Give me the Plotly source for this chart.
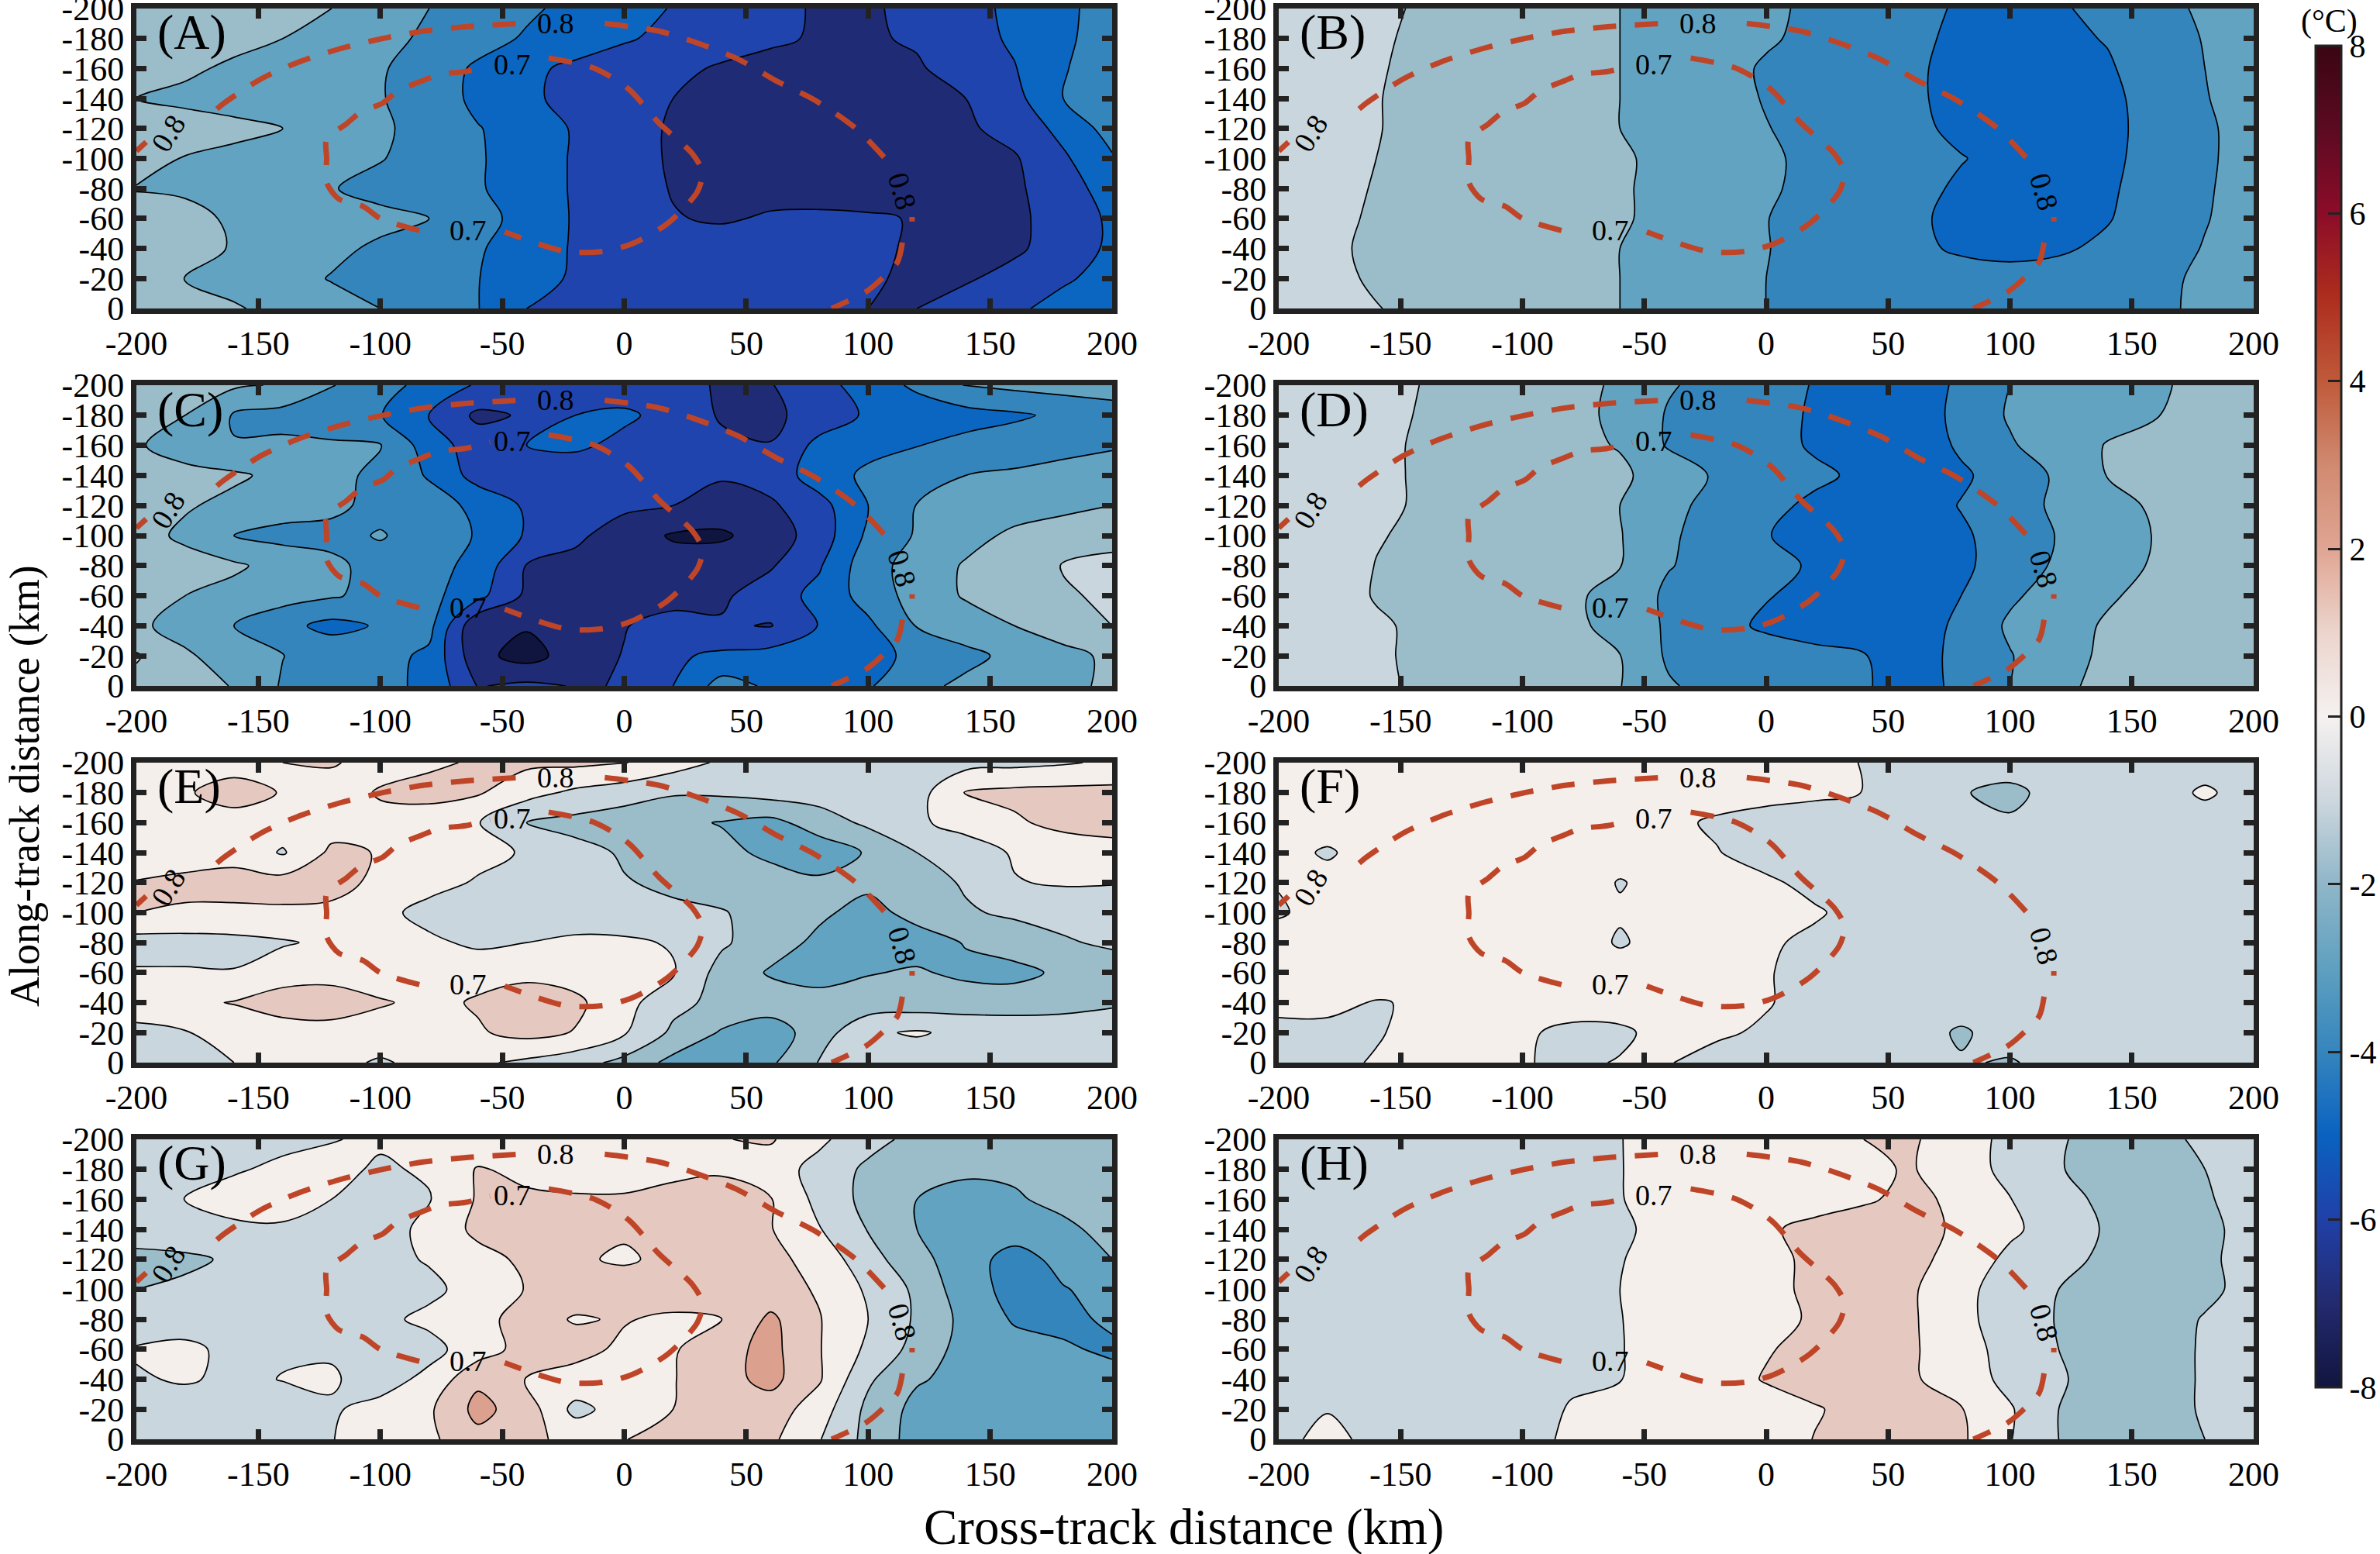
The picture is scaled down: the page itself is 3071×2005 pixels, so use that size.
import plotly.graph_objects as go

# Grid of the contour fields (km)
cross_track = [-200, -180, -160, -140, -120, -100, -80, -60, -40, -20, 0, 20, 40, 60, 80, 100, 120, 140, 160, 180, 200]
along_track = [-200, -180, -160, -140, -120, -100, -80, -60, -40, -20, 0]

# Temperature anomaly fields, one row per along-track distance
field_a = [
    [-1.0, -1.25, -1.5, -1.75, -2.0, -2.5, -3.0, -3.4, -3.85, -4.25, -4.65, -5.05, -5.4, -5.75, -6.1, -6.1, -5.8, -5.3, -4.8, -4.2, -3.6],
    [-1.2, -1.5, -1.75, -2.0, -2.4, -2.75, -3.15, -3.65, -4.1, -4.5, -4.9, -5.25, -5.6, -5.85, -6.1, -6.1, -5.9, -5.4, -4.85, -4.15, -3.6],
    [-1.6, -1.85, -2.15, -2.4, -2.65, -2.9, -3.5, -4.15, -4.8, -5.2, -5.5, -5.8, -6.1, -6.3, -6.4, -6.3, -6.1, -5.6, -5.05, -4.05, -3.6],
    [-2.0, -2.2, -2.4, -2.6, -2.75, -2.95, -3.4, -4.25, -4.85, -5.25, -5.6, -6.0, -6.3, -6.45, -6.5, -6.45, -6.25, -6.0, -5.3, -4.0, -3.5],
    [-1.5, -1.6, -1.75, -2.0, -2.4, -2.85, -3.35, -3.95, -4.45, -5.1, -5.65, -6.1, -6.3, -6.45, -6.5, -6.5, -6.35, -6.15, -5.65, -4.7, -3.6],
    [-1.6, -2.05, -2.25, -2.45, -2.7, -2.95, -3.4, -3.9, -4.5, -5.1, -5.65, -6.1, -6.3, -6.45, -6.55, -6.55, -6.45, -6.3, -6.1, -5.15, -4.1],
    [-2.05, -2.1, -2.2, -2.4, -2.95, -3.3, -3.6, -3.9, -4.5, -5.1, -5.6, -6.05, -6.25, -6.3, -6.35, -6.4, -6.4, -6.35, -6.15, -5.5, -4.5],
    [-1.6, -1.8, -2.1, -2.35, -2.55, -2.75, -3.0, -3.65, -4.35, -5.1, -5.55, -5.95, -6.1, -5.9, -5.85, -5.9, -6.05, -6.25, -6.15, -5.7, -4.8],
    [-1.5, -1.75, -2.05, -2.4, -2.8, -3.15, -3.5, -3.9, -4.5, -5.1, -5.25, -5.4, -5.55, -5.65, -5.75, -5.85, -6.1, -6.3, -6.15, -5.6, -4.8],
    [-1.7, -2.03, -2.35, -2.65, -3.05, -3.3, -3.6, -3.97, -4.7, -5.1, -5.2, -5.3, -5.45, -5.6, -5.75, -5.9, -6.15, -6.1, -5.7, -5.15, -4.6],
    [-1.4, -1.7, -1.9, -2.3, -2.65, -3.0, -3.5, -3.97, -5.0, -5.2, -5.35, -5.5, -5.6, -5.7, -5.85, -6.0, -6.0, -5.6, -5.2, -4.6, -4.0],
]
field_b = [
    [-0.55, -0.7, -0.85, -1.1, -1.3, -1.5, -1.75, -2.0, -2.3, -2.6, -2.85, -3.15, -3.45, -3.75, -4.1, -4.2, -4.1, -3.75, -3.3, -2.85, -2.5],
    [-0.55, -0.7, -0.9, -1.15, -1.35, -1.55, -1.8, -2.0, -2.3, -2.6, -2.9, -3.2, -3.5, -3.85, -4.15, -4.3, -4.2, -3.95, -3.45, -2.95, -2.55],
    [-0.55, -0.7, -0.95, -1.15, -1.4, -1.6, -1.8, -2.0, -2.35, -2.7, -3.1, -3.35, -3.6, -3.9, -4.2, -4.35, -4.3, -4.1, -3.55, -3.0, -2.55],
    [-0.55, -0.75, -0.97, -1.2, -1.4, -1.6, -1.8, -2.0, -2.35, -2.7, -3.05, -3.35, -3.6, -3.9, -4.2, -4.4, -4.35, -4.15, -3.75, -3.05, -2.55],
    [-0.5, -0.75, -0.97, -1.2, -1.4, -1.6, -1.8, -2.0, -2.3, -2.65, -2.97, -3.25, -3.55, -3.85, -4.15, -4.35, -4.35, -4.15, -3.8, -3.15, -2.6],
    [-0.5, -0.75, -1.0, -1.2, -1.35, -1.55, -1.75, -1.9, -2.2, -2.5, -2.9, -3.15, -3.4, -3.7, -3.97, -4.2, -4.3, -4.15, -3.75, -3.15, -2.6],
    [-0.5, -0.75, -1.05, -1.25, -1.45, -1.6, -1.75, -1.9, -2.25, -2.55, -2.9, -3.2, -3.5, -3.8, -4.1, -4.3, -4.3, -4.1, -3.7, -3.1, -2.6],
    [-0.55, -0.8, -1.1, -1.25, -1.45, -1.6, -1.75, -1.9, -2.25, -2.6, -2.98, -3.3, -3.55, -3.9, -4.15, -4.3, -4.25, -4.05, -3.6, -3.05, -2.6],
    [-0.6, -0.85, -1.15, -1.3, -1.45, -1.6, -1.8, -2.0, -2.3, -2.65, -2.97, -3.3, -3.55, -3.85, -4.1, -4.2, -4.1, -3.85, -3.4, -2.95, -2.55],
    [-0.55, -0.8, -1.1, -1.3, -1.5, -1.65, -1.8, -2.0, -2.3, -2.65, -3.0, -3.25, -3.45, -3.6, -3.7, -3.75, -3.7, -3.5, -3.2, -2.85, -2.5],
    [-0.5, -0.7, -0.97, -1.2, -1.4, -1.6, -1.8, -2.0, -2.35, -2.65, -3.0, -3.2, -3.4, -3.55, -3.65, -3.7, -3.65, -3.45, -3.15, -2.85, -2.5],
]
field_c = [
    [-1.5, -1.65, -1.85, -2.1, -2.95, -3.55, -4.4, -5.1, -5.3, -5.5, -5.65, -5.85, -6.05, -6.05, -5.35, -4.55, -3.8, -2.95, -2.75, -2.6, -2.5],
    [-1.6, -2.0, -3.1, -3.35, -3.65, -3.95, -5.05, -6.2, -5.9, -5.0, -4.8, -5.4, -6.1, -6.2, -5.6, -4.85, -4.6, -4.4, -4.15, -3.8, -3.5],
    [-1.85, -2.6, -2.95, -2.8, -2.85, -2.95, -4.5, -5.5, -5.0, -4.8, -5.3, -5.6, -5.8, -5.97, -4.7, -4.3, -4.03, -3.7, -3.5, -3.35, -3.15],
    [-1.4, -1.6, -1.85, -2.25, -2.7, -3.25, -4.1, -5.4, -5.6, -5.7, -5.75, -5.8, -5.9, -5.6, -4.5, -3.8, -3.4, -3.0, -2.85, -2.6, -2.3],
    [-1.6, -1.9, -2.25, -2.55, -2.85, -3.2, -3.55, -4.25, -5.15, -5.6, -5.8, -6.0, -6.4, -6.15, -5.35, -4.0, -2.97, -2.65, -2.45, -2.25, -2.0],
    [-1.6, -2.2, -3.0, -3.3, -3.2, -2.95, -3.3, -4.1, -5.1, -5.8, -6.5, -7.1, -7.15, -6.5, -5.55, -3.8, -2.9, -2.35, -1.8, -1.5, -1.25],
    [-1.4, -1.6, -1.85, -2.35, -2.85, -3.25, -3.65, -4.3, -6.05, -6.3, -6.45, -6.6, -6.4, -6.1, -5.1, -3.4, -2.6, -1.9, -1.45, -0.95, -0.8],
    [-1.6, -2.0, -2.3, -2.6, -2.9, -3.3, -3.7, -4.7, -6.2, -6.35, -6.45, -6.4, -6.15, -5.5, -4.7, -3.6, -2.6, -1.9, -1.45, -1.1, -0.85],
    [-1.8, -2.4, -3.0, -3.7, -4.3, -3.9, -3.7, -6.9, -6.9, -6.5, -6.05, -5.6, -5.9, -6.05, -4.95, -4.2, -2.95, -2.5, -2.0, -1.5, -1.0],
    [-0.9, -1.85, -2.5, -2.98, -3.3, -3.65, -4.2, -6.7, -7.4, -6.5, -5.95, -5.15, -4.8, -4.6, -4.45, -4.2, -3.85, -3.25, -2.75, -2.3, -1.8],
    [-1.3, -1.6, -2.05, -3.1, -3.4, -3.75, -4.2, -6.05, -5.8, -6.05, -5.97, -5.0, -3.6, -4.15, -4.4, -4.1, -3.25, -2.8, -2.5, -2.2, -1.85],
]
field_d = [
    [-0.55, -0.7, -0.85, -1.02, -1.3, -1.55, -1.8, -2.1, -2.9, -3.35, -3.65, -4.05, -4.4, -4.6, -3.8, -3.0, -2.75, -2.4, -2.1, -1.8, -1.6],
    [-0.5, -0.7, -0.85, -1.05, -1.3, -1.55, -1.8, -2.15, -3.1, -3.4, -3.7, -4.1, -4.4, -4.6, -3.7, -2.9, -2.6, -2.3, -2.03, -1.75, -1.55],
    [-0.5, -0.65, -0.85, -1.1, -1.35, -1.6, -1.8, -2.05, -3.1, -3.35, -3.7, -4.1, -4.4, -4.6, -3.85, -3.1, -2.5, -1.95, -1.7, -1.6, -1.55],
    [-0.5, -0.65, -0.85, -1.1, -1.3, -1.5, -1.75, -1.85, -2.4, -3.15, -3.5, -3.85, -4.15, -4.35, -4.15, -3.55, -2.85, -1.97, -1.7, -1.6, -1.55],
    [-0.5, -0.65, -0.85, -1.1, -1.3, -1.55, -1.75, -2.0, -2.75, -3.3, -3.8, -4.15, -4.4, -4.5, -3.95, -3.35, -2.85, -2.35, -1.85, -1.6, -1.5],
    [-0.4, -0.6, -0.95, -1.15, -1.4, -1.6, -1.8, -1.95, -2.85, -3.45, -3.97, -4.25, -4.45, -4.5, -4.15, -3.55, -2.95, -2.45, -1.95, -1.6, -1.45],
    [-0.4, -0.6, -1.02, -1.2, -1.4, -1.6, -1.8, -1.97, -2.95, -3.35, -3.75, -4.1, -4.4, -4.55, -4.2, -3.5, -2.85, -2.35, -1.9, -1.6, -1.45],
    [-0.45, -0.65, -1.05, -1.25, -1.45, -1.65, -1.85, -2.3, -3.2, -3.55, -3.95, -4.25, -4.5, -4.6, -4.0, -3.15, -2.6, -2.1, -1.75, -1.55, -1.45],
    [-0.55, -0.7, -0.9, -1.15, -1.4, -1.6, -1.8, -2.3, -3.15, -3.7, -4.15, -4.4, -4.6, -4.6, -3.75, -2.85, -2.35, -1.9, -1.65, -1.5, -1.4],
    [-0.6, -0.75, -0.9, -1.15, -1.4, -1.6, -1.8, -1.98, -3.15, -3.35, -3.55, -3.75, -3.95, -4.4, -3.75, -3.05, -2.4, -1.8, -1.6, -1.5, -1.4],
    [-0.55, -0.7, -0.9, -1.1, -1.4, -1.6, -1.8, -1.97, -2.9, -3.35, -3.55, -3.7, -3.9, -4.45, -3.75, -3.0, -2.2, -1.75, -1.6, -1.5, -1.4],
]
field_e = [
    [0.3, 0.5, 0.8, 1.0, 1.1, 0.6, 0.85, 1.1, 1.2, 1.2, 1.05, 0.45, -0.15, -0.45, -0.5, -0.5, -0.45, -0.35, -0.25, -0.1, 0.15],
    [0.6, 0.95, 1.2, 0.97, 0.5, 1.1, 1.3, 1.1, 0.35, -0.2, -0.55, -0.9, -0.85, -0.6, -0.55, -0.5, -0.4, 1.05, 1.25, 1.3, 1.3],
    [0.7, 0.95, 0.8, 0.5, 0.55, 0.7, 0.5, 0.05, -1.0, -1.3, -1.55, -1.8, -2.05, -2.3, -1.5, -0.8, -0.15, 0.35, 0.85, 1.3, 1.4],
    [0.45, 0.6, 0.7, -0.1, 1.2, 0.95, 0.55, 0.3, -0.1, -0.7, -1.1, -1.4, -1.75, -2.2, -2.6, -1.9, -1.0, -0.5, 0.1, 0.35, 0.6],
    [1.05, 1.2, 1.3, 1.4, 1.3, 0.8, 0.35, -0.1, -0.4, -0.7, -0.95, -1.15, -1.35, -1.6, -1.8, -1.8, -1.4, -0.9, -0.05, 0.1, 0.05],
    [1.0, 0.9, 0.85, 0.85, 0.8, 0.3, -0.35, -0.5, -0.6, -0.7, -0.75, -0.85, -0.95, -1.3, -1.85, -2.3, -1.7, -1.1, -0.85, -0.7, -0.6],
    [-0.4, -0.4, -0.3, -0.1, 0.2, 0.3, 0.2, -0.2, 0.0, 0.25, 0.2, -0.1, -0.85, -1.6, -2.2, -2.5, -2.4, -1.95, -1.5, -1.1, -0.85],
    [0.1, 0.1, 0.05, 0.6, 0.7, 0.4, 0.5, 0.7, 0.8, 0.6, 0.4, 0.1, -1.4, -2.1, -2.4, -2.05, -1.9, -2.2, -2.3, -1.8, -1.5],
    [0.6, 0.8, 1.05, 1.4, 1.4, 1.1, 0.75, 1.1, 1.4, 1.2, 0.35, -0.7, -1.3, -1.5, -1.6, -1.6, -1.55, -1.5, -1.45, -1.3, -1.1],
    [-0.3, -0.05, 0.3, 0.6, 0.7, 0.5, 0.7, 0.9, 1.3, 0.95, 0.1, -1.2, -2.1, -2.5, -1.5, -0.15, 0.1, -0.25, -0.4, -0.5, -0.55],
    [-0.7, -0.4, 0.0, 0.25, 0.25, -0.1, 0.25, 0.15, -0.2, -0.6, -1.3, -2.3, -2.45, -2.15, -0.95, -0.6, -0.6, -0.7, -0.7, -0.7, -0.7],
]
field_f = [
    [0.4, 0.4, 0.4, 0.4, 0.4, 0.4, 0.4, 0.4, 0.35, 0.3, 0.25, 0.15, -0.02, -0.3, -0.5, -0.6, -0.5, -0.4, -0.35, -0.3, -0.3],
    [0.45, 0.45, 0.5, 0.5, 0.5, 0.5, 0.45, 0.4, 0.35, 0.3, 0.25, 0.15, -0.01, -0.5, -0.95, -1.2, -0.7, -0.4, -0.3, 0.1, -0.3],
    [0.4, 0.4, 0.45, 0.5, 0.5, 0.5, 0.45, 0.35, 0.15, -0.1, -0.3, -0.4, -0.5, -0.6, -0.7, -0.9, -0.6, -0.4, -0.35, -0.3, -0.3],
    [0.3, -0.1, 0.4, 0.5, 0.5, 0.5, 0.45, 0.35, 0.2, 0.03, -0.3, -0.4, -0.5, -0.55, -0.55, -0.55, -0.5, -0.45, -0.4, -0.35, -0.3],
    [0.05, 0.3, 0.45, 0.5, 0.5, 0.5, 0.45, -0.05, 0.3, 0.25, 0.12, -0.2, -0.4, -0.5, -0.5, -0.5, -0.45, -0.4, -0.4, -0.35, -0.3],
    [-0.1, 0.35, 0.5, 0.55, 0.55, 0.55, 0.5, 0.1, 0.4, 0.35, 0.25, 0.08, -0.25, -0.4, -0.45, -0.45, -0.4, -0.4, -0.35, -0.35, -0.3],
    [0.4, 0.4, 0.5, 0.55, 0.55, 0.55, 0.5, -0.1, 0.4, 0.3, 0.1, -0.15, -0.3, -0.4, -0.4, -0.4, -0.4, -0.4, -0.35, -0.3, -0.3],
    [0.45, 0.5, 0.5, 0.55, 0.55, 0.55, 0.5, 0.45, 0.3, 0.15, 0.03, -0.15, -0.3, -0.35, -0.4, -0.4, -0.4, -0.4, -0.35, -0.3, -0.3],
    [0.3, 0.2, -0.05, 0.1, 0.4, 0.45, 0.5, 0.4, 0.3, 0.2, 0.05, -0.25, -0.35, -0.4, -0.45, -0.45, -0.4, -0.4, -0.35, -0.35, -0.3],
    [-0.3, -0.2, -0.05, 0.2, 0.4, 0.15, -0.25, -0.15, 0.3, 0.1, -0.1, -0.3, -0.4, -0.5, -1.15, -0.5, -0.4, -0.4, -0.35, -0.3, -0.3],
    [-0.4, -0.15, 0.05, 0.3, 0.3, 0.05, -0.15, 0.05, 0.03, -0.25, -0.35, -0.4, -0.5, -0.6, -0.9, -1.1, -0.6, -0.4, -0.35, -0.3, -0.3],
]
field_g = [
    [-0.5, -0.45, -0.4, -0.25, -0.03, 0.1, 0.2, 0.3, 0.4, 0.5, 0.6, 0.8, 0.97, 1.1, 0.2, -0.65, -1.3, -1.4, -1.45, -1.5, -1.5],
    [-0.5, -0.3, -0.1, 0.2, 0.2, -0.1, 0.1, 1.1, 0.7, 0.6, 0.6, 0.7, 0.85, 0.5, -0.35, -1.2, -1.4, -1.85, -1.85, -1.6, -1.5],
    [-0.2, 0.02, 0.4, 0.3, 0.0, -0.4, -0.05, 1.1, 1.2, 1.1, 1.1, 1.4, 1.5, 1.05, -0.3, -1.3, -2.0, -2.3, -2.1, -1.75, -1.6],
    [-0.3, -0.3, -0.2, -0.1, -0.2, -0.4, 0.25, 1.25, 1.4, 1.1, 1.1, 1.2, 1.4, 1.05, 0.05, -1.05, -2.0, -2.3, -2.5, -2.2, -1.7],
    [-1.4, -1.2, -0.85, -0.7, -0.5, -0.25, 0.07, 0.65, 1.2, 1.1, 0.9, 1.2, 1.5, 1.3, 0.6, -0.6, -1.7, -2.55, -3.4, -2.7, -2.0],
    [-1.0, -0.8, -0.7, -0.6, -0.5, -0.3, -0.2, 0.35, 1.05, 1.3, 1.4, 1.5, 1.5, 1.4, 0.9, -0.15, -1.2, -2.6, -3.3, -3.05, -2.7],
    [-0.7, -0.65, -0.6, -0.5, -0.4, -0.2, 0.2, 0.8, 1.25, 0.95, 1.05, 0.85, 1.0, 2.2, 1.05, 0.0, -1.15, -2.3, -3.1, -3.3, -2.8],
    [0.1, 0.3, -0.35, -0.1, -0.1, -0.35, -0.3, 0.5, 1.4, 1.25, 0.85, 0.9, 1.65, 2.3, 1.05, -0.2, -1.35, -2.4, -2.65, -2.85, -3.2],
    [-0.1, 0.1, -0.2, 0.03, 0.1, -0.4, 0.25, 1.8, 0.97, 0.7, 0.6, 0.95, 1.65, 2.3, 1.1, -0.85, -1.9, -2.3, -2.45, -2.55, -2.6],
    [-0.5, -0.5, -0.45, -0.4, -0.1, 0.3, 0.85, 2.3, 1.5, -0.3, 0.45, 1.0, 1.4, 1.5, 0.5, -1.25, -2.3, -2.5, -2.6, -2.6, -2.6],
    [-0.55, -0.5, -0.4, -0.3, -0.02, 0.3, 0.8, 1.7, 1.2, 0.75, 0.98, 1.25, 1.4, 1.2, 0.05, -1.3, -2.4, -2.5, -2.55, -2.6, -2.6],
]
field_h = [
    [-0.6, -0.55, -0.5, -0.45, -0.35, -0.2, -0.1, -0.02, 0.3, 0.5, 0.65, 0.8, 1.0, 1.1, 0.5, -0.3, -0.95, -1.2, -1.15, -0.9, -0.7],
    [-0.6, -0.55, -0.5, -0.45, -0.35, -0.2, -0.1, -0.02, 0.25, 0.45, 0.6, 0.7, 0.9, 1.05, 0.5, -0.3, -0.97, -1.2, -1.15, -1.0, -0.7],
    [-0.6, -0.55, -0.5, -0.45, -0.35, -0.2, -0.1, -0.03, 0.3, 0.45, 0.55, 0.7, 0.9, 1.2, 0.8, 0.03, -0.7, -1.2, -1.2, -1.05, -0.8],
    [-0.6, -0.55, -0.5, -0.45, -0.35, -0.25, -0.15, -0.1, 0.2, 0.5, 0.9, 1.2, 1.4, 1.4, 0.8, 0.2, -0.5, -1.1, -1.2, -1.1, -0.85],
    [-0.6, -0.55, -0.5, -0.45, -0.35, -0.25, -0.15, -0.03, 0.25, 0.5, 0.8, 1.15, 1.3, 1.25, 0.65, -0.25, -0.85, -1.1, -1.2, -1.1, -0.8],
    [-0.6, -0.55, -0.5, -0.45, -0.35, -0.2, -0.1, 0.0, 0.3, 0.55, 0.8, 1.15, 1.3, 1.1, 0.3, -0.5, -1.0, -1.15, -1.2, -1.1, -0.85],
    [-0.6, -0.55, -0.5, -0.45, -0.35, -0.2, -0.1, -0.02, 0.3, 0.55, 0.75, 1.1, 1.25, 1.1, 0.3, -0.55, -1.05, -1.2, -1.2, -0.97, -0.75],
    [-0.6, -0.55, -0.5, -0.45, -0.35, -0.2, -0.1, -0.03, 0.3, 0.6, 0.95, 1.2, 1.3, 1.1, 0.45, -0.4, -1.0, -1.2, -1.2, -0.95, -0.75],
    [-0.6, -0.55, -0.5, -0.45, -0.35, -0.2, -0.1, -0.02, 0.35, 0.7, 1.05, 1.25, 1.3, 1.1, 0.55, -0.3, -0.95, -1.2, -1.2, -0.95, -0.75],
    [-0.6, -0.05, -0.5, -0.45, -0.4, -0.3, 0.05, 0.2, 0.35, 0.5, 0.7, 0.95, 1.2, 1.35, 1.05, 0.1, -1.0, -1.2, -1.2, -0.95, -0.75],
    [-0.3, 0.3, -0.3, -0.45, -0.4, -0.2, 0.1, 0.1, 0.3, 0.5, 0.7, 1.02, 1.3, 1.4, 1.15, 0.05, -1.0, -1.2, -1.2, -1.0, -0.75],
]
panel_fields = [field_a, field_b, field_c, field_d, field_e, field_f, field_g, field_h]
panel_letters = ["(A)", "(B)", "(C)", "(D)", "(E)", "(F)", "(G)", "(H)"]

# Dashed contours shared by every panel, None where a label breaks them
curve_08_x = [-200, -196, None, -167, -164, -149, -134, -117, -99, -82, -64, -43, None, -8, 14, 30, 47, 62, 78, 95, 107, None, 118, 118, None, 114, 112, 105, 99, 85]
curve_08_y = [-105, -111, None, -133, -137, -153, -164, -173, -180, -185, -188, -190, None, -190, -185, -177, -166, -152, -139, -120, -100, None, -61, -58, None, -44, -31, -19, -11, 0]
curve_07_x = [-31, -12, 2, 14, 28, 32, 30, 18, 3, -9, -24, -49, None, -84, -100, -107, -117, -122, -122, -122, -114, -108, -99, -93, -84, -76, -65, -55]
curve_07_y = [-167, -160, -146, -124, -103, -91, -78, -57, -43, -38, -38, -51, None, -52, -60, -68, -73, -84, -100, -113, -123, -131, -137, -145, -151, -156, -158, -162]
curve_labels = ["0.8", "0.8", "0.7", "0.7", "0.8"]
label_x = [-187, -28, -46, -64, 114]
label_y = [-117, -190, -163, -52, -78]
label_angle = [-58, 0, 0, 0, 74]

# Axis ticks
x_ticks = [-200, -150, -100, -50, 0, 50, 100, 150, 200]
y_ticks = [-200, -180, -160, -140, -120, -100, -80, -60, -40, -20, 0]
bar_ticks = [-8, -6, -4, -2, 0, 2, 4, 6, 8]

# Filled band colours from -8 upward, one per degree
band_colors = ["#101540", "#1f2b75", "#1f44ad", "#0a66c0", "#3585bd", "#63a3c2", "#9bbcc9", "#c9d6dd",
               "#f5efec", "#e5c8bf", "#dba08e", "#c87a5e", "#bf5a3a", "#ad2d1e", "#8c0c28", "#5c0a22"]
bar_levels = [-8, -7, -6, -5, -4, -3, -2, -1, 0, 1, 2, 3, 4, 5, 6, 7, 8]
bar_colors = ["#11153f", "#232a6e", "#2040a8", "#0a62c0", "#3585bd", "#5fa0c0", "#8fb6c8", "#cdd7de",
              "#f5f1f0", "#ecd5cd", "#e0a593", "#d08a70", "#bf5a3a", "#ad2d1e", "#8c0c28", "#5c0a22", "#3a0512"]

WIDTH = 3071
HEIGHT = 2005
SERIF = "Liberation Serif"
FRAME = "#222222"
LINE_RED = "#bf4528"

# Plot areas in page pixels
col_left = [176, 1650]
col_right = [1435, 2908]
row_top = [11, 497, 984, 1470]
row_bottom = [398, 885, 1371, 1857]

stepped = []
for i, c in enumerate(band_colors):
    stepped.append([i / 16, c])
    stepped.append([(i + 1) / 16, c])

fig = go.Figure()
annotations = []
layout_axes = {}

for n, field in enumerate(panel_fields):
    col = n % 2
    row = n // 2
    suffix = "" if n == 0 else str(n + 1)
    xname = "x" + suffix
    yname = "y" + suffix

    fig.add_trace(go.Contour(
        x=cross_track, y=along_track, z=field, xaxis=xname, yaxis=yname,
        zmin=-8, zmax=8, autocontour=False, colorscale=stepped, showscale=False,
        contours=dict(start=-8, end=8, size=1, coloring="fill", showlines=True),
        line=dict(color="black", width=1.7, smoothing=1),
        hoverinfo="skip",
    ))
    for cx, cy in [(curve_08_x, curve_08_y), (curve_07_x, curve_07_y)]:
        fig.add_trace(go.Scatter(
            x=cx, y=cy, xaxis=xname, yaxis=yname, mode="lines",
            line=dict(color=LINE_RED, width=7, dash="30px,24px", shape="spline", smoothing=0.8),
            showlegend=False, hoverinfo="skip",
        ))

    shared = dict(
        showline=True, linecolor=FRAME, linewidth=7, mirror="ticks", ticks="inside",
        ticklen=13, tickwidth=7, tickcolor=FRAME, showgrid=False, zeroline=False,
        tickfont=dict(family=SERIF, size=44, color="black"), tickmode="array",
        ticklabeloverflow="allow",
    )
    layout_axes["xaxis" + suffix] = dict(
        shared, domain=[col_left[col] / WIDTH, col_right[col] / WIDTH], range=[-200, 200],
        anchor=yname, tickvals=x_ticks, ticktext=[str(v) for v in x_ticks],
    )
    layout_axes["yaxis" + suffix] = dict(
        shared, domain=[1 - row_bottom[row] / HEIGHT, 1 - row_top[row] / HEIGHT], range=[0, -200],
        anchor=xname, tickvals=y_ticks, ticktext=[str(v) for v in y_ticks],
    )

    annotations.append(dict(
        text=panel_letters[n], x=-192, y=-184, xref=xname, yref=yname, xanchor="left", yanchor="middle",
        showarrow=False, font=dict(family=SERIF, size=64, color="black"),
    ))
    for t, lx, ly, ang in zip(curve_labels, label_x, label_y, label_angle):
        annotations.append(dict(
            text=t, x=lx, y=ly, xref=xname, yref=yname, textangle=ang,
            showarrow=False, font=dict(family=SERIF, size=38, color="black"),
        ))

# Colour bar, carried by an invisible marker trace
fig.add_trace(go.Scatter(
    x=[0, 0], y=[-100, -100], xaxis="x8", yaxis="y8", mode="markers", showlegend=False, hoverinfo="skip",
    marker=dict(
        size=1, opacity=0, color=[-8, 8], cmin=-8, cmax=8,
        colorscale=[[(v + 8) / 16, c] for v, c in zip(bar_levels, bar_colors)],
        showscale=True,
        colorbar=dict(
            x=2988 / WIDTH, xanchor="left", xpad=0, ypad=0, y=1 - 59 / HEIGHT, yanchor="top",
            lenmode="pixels", len=1731, thicknessmode="pixels", thickness=33,
            outlinecolor=FRAME, outlinewidth=3, ticks="inside", ticklen=18, tickwidth=3, tickcolor=FRAME,
            tickmode="array", tickvals=bar_ticks, ticktext=[str(v) for v in bar_ticks],
            tickfont=dict(family=SERIF, size=42, color="black"),
        ),
    ),
))

annotations.append(dict(
    text="Along-track distance (km)", x=32 / WIDTH, y=1 - 1014 / HEIGHT, xref="paper", yref="paper",
    xanchor="center", yanchor="middle", textangle=-90, showarrow=False,
    font=dict(family=SERIF, size=54, color="black"),
))
annotations.append(dict(
    text="Cross-track distance (km)", x=1527 / WIDTH, y=1 - 1970 / HEIGHT, xref="paper", yref="paper",
    xanchor="center", yanchor="middle", showarrow=False,
    font=dict(family=SERIF, size=65, color="black"),
))
annotations.append(dict(
    text="(°C)", x=3005 / WIDTH, y=1 - 28 / HEIGHT, xref="paper", yref="paper",
    xanchor="center", yanchor="middle", showarrow=False,
    font=dict(family=SERIF, size=42, color="black"),
))

fig.update_layout(
    width=WIDTH, height=HEIGHT, margin=dict(l=0, r=0, t=0, b=0, autoexpand=False),
    paper_bgcolor="white", plot_bgcolor="white", showlegend=False,
    annotations=annotations, **layout_axes,
)

fig.write_html("out.html", config={"displayModeBar": False}, post_script="document.body.style.margin = '0';")
